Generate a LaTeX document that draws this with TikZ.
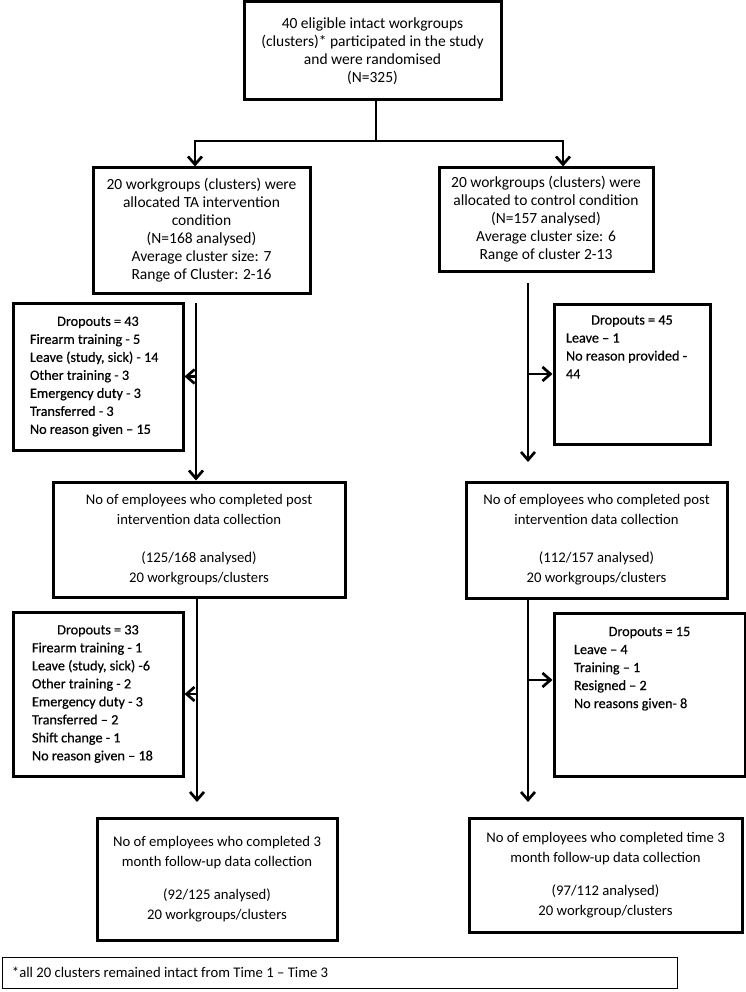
\documentclass[tikz,border=0pt]{standalone}
\usepackage{fontspec}
\setmainfont{Carlito}
\newfontfamily\dropfont{Carlito}[Ligatures=TeX,FakeBold=0.5]
\usetikzlibrary{arrows.meta}

\begin{document}
\begin{tikzpicture}[x=1pt,y=-1pt,line width=2.7pt,
  font=\fontsize{14.7}{18}\selectfont,
  box/.style={draw,line width=3pt,align=center,inner sep=0pt},
  drop/.style={draw,line width=3pt,align=flush left,inner sep=0pt,font=\dropfont\fontsize{14.2}{18}\selectfont},
  arrow/.style={-{Straight Barb[length=8pt,width=14pt]}}]
\useasboundingbox (0,0) rectangle (746,992);

\node [box,minimum width=257,minimum height=98,font=\fontsize{15.5}{18}\selectfont] (top) at (372.5,51)
  {40 eligible intact workgroups\\(clusters)* participated in the study\\and were randomised\\(N=325)};

\node [box,minimum width=217,minimum height=125,font=\fontsize{15.5}{18}\selectfont] (int) at (201.5,230.5)
  {20 workgroups (clusters) were\\allocated TA intervention\\condition\\(N=168 analysed)\\Average cluster size: 7\\Range of Cluster: 2-16};
\node [box,minimum width=214,minimum height=103,font=\fontsize{15.5}{18}\selectfont] (ctrl) at (546,219.5)
  {20 workgroups (clusters) were\\allocated to control condition\\(N=157 analysed)\\Average cluster size: 6\\Range of cluster 2-13};

\node [drop,minimum width=170,minimum height=147,text width=136] (intdrop) at (98,376.5)
  {\centerline{Dropouts = 43}\\Firearm training - 5\\Leave (study, sick) - 14\\Other training - 3\\Emergency duty - 3\\Transferred - 3\\No reason given -- 15};
\node [drop,minimum width=156,minimum height=140,text width=132] (ctrldrop) at (632,374)
  {\centerline{Dropouts = 45}\\Leave -- 1\\No reason provided -\\44\\~\\~\\~};

\node [box,minimum width=292,minimum height=115,font=\fontsize{14.7}{20}\selectfont] (intpost) at (199,539.5)
  {No of employees who completed post\\intervention data collection\\[18pt](125/168 analysed)\\20 workgroups/clusters};
\node [box,minimum width=261,minimum height=116,font=\fontsize{14.7}{20}\selectfont] (ctrlpost) at (596.5,540)
  {No of employees who completed post\\intervention data collection\\[18pt](112/157 analysed)\\20 workgroups/clusters};

\node [drop,minimum width=170,minimum height=164,text width=132] (intdrop2) at (98,694)
  {\centerline{Dropouts = 33}\\Firearm training - 1\\Leave (study, sick) -6\\Other training - 2\\Emergency duty - 3\\Transferred -- 2\\Shift change - 1\\No reason given -- 18};
\node [drop,minimum width=191,minimum height=163,text width=151] (ctrldrop2) at (649.5,694.5)
  {\centerline{Dropouts = 15}\\Leave -- 4\\Training -- 1\\Resigned -- 2\\No reasons given- 8\\~\\~\\~};

\node [box,minimum width=240,minimum height=122,font=\fontsize{14.7}{20}\selectfont] (intfu) at (217,879)
  {No of employees who completed 3\\month follow-up data collection\\[13pt](92/125 analysed)\\20 workgroups/clusters};
\node [box,minimum width=273,minimum height=114,font=\fontsize{14.7}{20}\selectfont] (ctrlfu) at (605.5,875)
  {No of employees who completed time 3\\month follow-up data collection\\[13pt](97/112 analysed)\\20 workgroup/clusters};

\node [draw,line width=0.8pt,align=flush left,inner sep=0pt,minimum width=675,minimum height=31,text width=655] (note) at (339.5,972.5)
  {*all 20 clusters remained intact from Time 1 -- Time 3};

\coordinate (split) at (376,141);
\coordinate (isplit) at (195,141);
\coordinate (csplit) at (563,141);
\draw (top.south -| split) -- (split);
\draw [arrow] (split) -- (isplit) -- (isplit |- int.north);
\draw [arrow] (split) -- (csplit) -- (csplit |- ctrl.north);

\coordinate (iline1) at (196,303);
\draw [arrow] (iline1) -- (iline1 |- intpost.north);
\draw [arrow] (iline1 |- intdrop.east) -- (intdrop.east);
\coordinate (cline1) at (528,283);
\coordinate (cend1) at (528,462);
\draw [arrow] (cline1) -- (cend1);
\draw [arrow] (cline1 |- ctrldrop.west) -- (ctrldrop.west);

\coordinate (iline2) at (197,599);
\coordinate (iend2) at (197,802);
\draw [arrow] (iline2) -- (iend2);
\draw [arrow] (iline2 |- intdrop2.east) -- (intdrop2.east);
\coordinate (cline2) at (528,599);
\coordinate (cend2) at (528,802);
\coordinate (cside2) at (528,680);
\draw [arrow] (cline2) -- (cend2);
\draw [arrow] (cside2) -- (cside2 -| ctrldrop2.west);
\end{tikzpicture}
\end{document}
